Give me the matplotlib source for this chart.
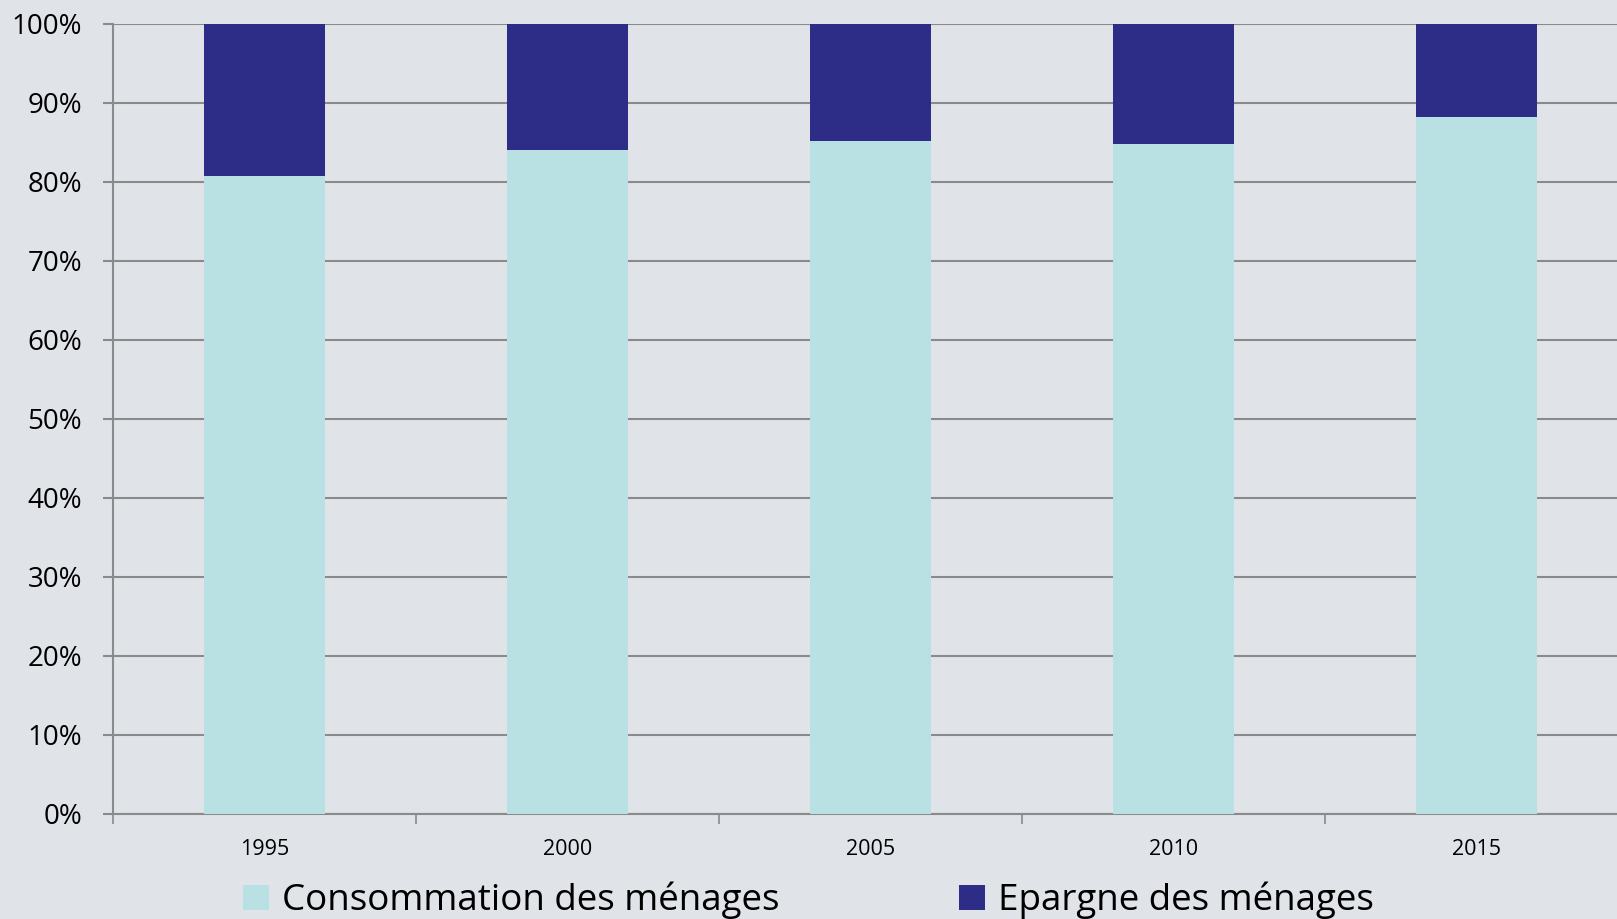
import matplotlib

matplotlib.use("Agg")
import matplotlib.pyplot as plt
import numpy as np
from matplotlib.patches import Patch
from matplotlib.ticker import FuncFormatter, MultipleLocator

"""
Part de la consommation et de l'epargne dans le revenu des menages
`python plot.py` -> out.png
"""

YEARS = ["1995", "2000", "2005", "2010", "2015"]
CONSOMMATION = [80.7, 84.0, 85.1, 84.8, 88.2]
EPARGNE = [19.3, 16.0, 14.9, 15.2, 11.8]
LABELS = ["Consommation des ménages", "Epargne des ménages"]

BG = "#E0E3E8"
GRID = "#8A8A8A"
COLOR_MAP = {
    "Consommation des ménages": "#B9E0E2",
    "Epargne des ménages": "#2D2D88",
}

plt.rcParams["font.family"] = ["Open Sans", "DejaVu Sans"]


def plot_bars():
    fig = plt.figure(figsize=(16.17, 9.19), dpi=100, facecolor=BG)
    ax = fig.add_axes([0.0697, 0.1146, 0.937, 0.8596], facecolor=BG)

    x = np.arange(len(YEARS))
    bar_width = 0.40
    ax.bar(x, CONSOMMATION, width=bar_width, color=COLOR_MAP[LABELS[0]], zorder=3)
    ax.bar(
        x,
        EPARGNE,
        bottom=CONSOMMATION,
        width=bar_width,
        color=COLOR_MAP[LABELS[1]],
        zorder=3,
    )

    ax.set_xlim(-0.5, len(YEARS) - 0.5)
    ax.set_ylim(0, 100)
    ax.yaxis.set_major_locator(MultipleLocator(10))
    ax.yaxis.set_major_formatter(FuncFormatter(lambda v, _: f"{v:.0f}%"))
    ax.grid(axis="y", color=GRID, linewidth=1.5, zorder=1)
    ax.set_axisbelow(True)

    # categories in the centre, tick marks on the boundaries
    ax.set_xticks(x)
    ax.set_xticklabels(YEARS)
    ax.set_xticks(np.arange(len(YEARS) + 1) - 0.5, minor=True)
    ax.tick_params(axis="x", which="major", length=0, pad=18, labelsize=15.5)
    ax.tick_params(axis="x", which="minor", length=7, width=1.2, color=GRID)
    ax.tick_params(axis="y", length=7, width=1.5, color=GRID, pad=15, labelsize=20)

    for side in ("top", "right"):
        ax.spines[side].set_visible(False)
    for side in ("left", "bottom"):
        ax.spines[side].set_color(GRID)
        ax.spines[side].set_linewidth(1.5)

    handles = [Patch(facecolor=COLOR_MAP[l], label=l) for l in LABELS]
    fig.legend(
        handles=handles,
        loc="center",
        bbox_to_anchor=(0.5, 0.02),
        ncol=2,
        frameon=False,
        fontsize=26.5,
        handlelength=0.7,
        handleheight=0.7,
        handletextpad=0.35,
        columnspacing=4.9,
        borderpad=0,
    )
    return fig


def main():
    fig = plot_bars()
    fig.savefig("out.png", dpi=100, facecolor=BG)


if __name__ == "__main__":
    main()
